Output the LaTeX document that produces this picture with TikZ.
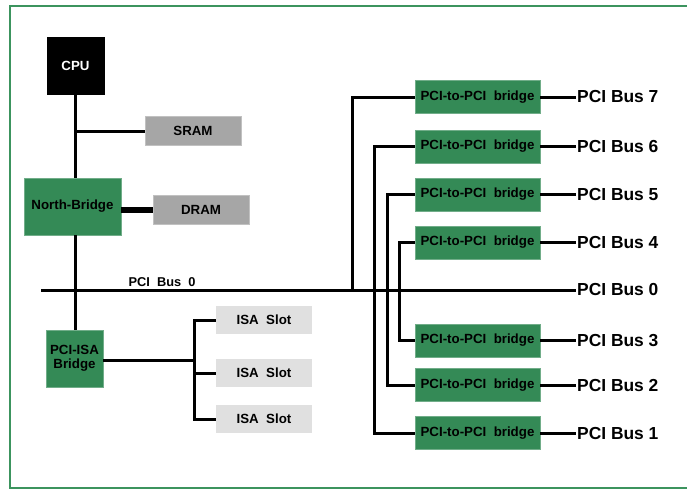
\documentclass[tikz,border=0pt]{standalone}
\usepackage{fontspec}
\setmainfont{Liberation Sans}
\definecolor{boxgreen}{RGB}{52,138,86}
\definecolor{framegreen}{RGB}{60,148,94}
\definecolor{midgray}{RGB}{166,166,166}
\definecolor{lightgray}{RGB}{224,224,224}
\newcommand{\dsp}{\ \ }
\begin{document}
\begin{tikzpicture}[x=1pt,y=-1pt,
  wire/.style={line width=3pt},
  thickwire/.style={line width=5.5pt},
  boxbase/.style={inner sep=0pt,font=\bfseries\fontsize{13.3}{14}\selectfont,align=center},
  greenbox/.style={boxbase,fill=boxgreen,draw=boxgreen!70!white,line width=0.6pt,text=black},
  graybox/.style={boxbase,fill=midgray,draw=midgray!70!white,line width=0.6pt,minimum width=96pt,minimum height=28.5pt},
  slotbox/.style={boxbase,fill=lightgray,minimum width=96pt,minimum height=28pt},
  bridgebox/.style={greenbox,minimum width=125pt,minimum height=33pt},
  buslabel/.style={anchor=west,inner sep=1pt,font=\bfseries\fontsize{17.4}{19}\selectfont},
  smalllabel/.style={inner sep=0pt,font=\bfseries\fontsize{12.8}{13}\selectfont}
]
\useasboundingbox (0,0) rectangle (687,491);
\draw[framegreen,line width=2.8pt] (10,6) rectangle (720,488);

% left side nodes
\node[boxbase,fill=black,text=white,minimum width=58pt,minimum height=58pt] (cpu) at (75.5,66) {CPU};
\node[graybox] (sram) at (193,131) {SRAM};
\node[greenbox,minimum width=97pt,minimum height=57pt] (nb) at (72.5,206.5) {North-Bridge};
\node[graybox] (dram) at (201,210) {DRAM};
\node[greenbox,minimum width=57pt,minimum height=57pt] (isab) at (74.5,358.5) {PCI-ISA\\[0pt]Bridge};
\node[slotbox] (isa1) at (264,320) {ISA\dsp Slot};
\node[slotbox] (isa2) at (264,373) {ISA\dsp Slot};
\node[slotbox] (isa3) at (264,419) {ISA\dsp Slot};

% bus 0
\coordinate (bus0L) at (41,290);
\coordinate (t7) at (352,290);
\coordinate (jisa) at (194,360);
\node[buslabel] (L0) at (576,290) {PCI Bus 0};
\node[smalllabel] (p0) at (162,282.5) {PCI\dsp Bus\dsp 0};

% bridges
\node[bridgebox] (b7) at (477.5,97) {PCI-to-PCI\dsp bridge};
\node[bridgebox] (b6) at (477.5,146.5) {PCI-to-PCI\dsp bridge};
\node[bridgebox] (b5) at (477.5,194.5) {PCI-to-PCI\dsp bridge};
\node[bridgebox] (b4) at (477.5,242.5) {PCI-to-PCI\dsp bridge};
\node[bridgebox] (b3) at (477.5,340.5) {PCI-to-PCI\dsp bridge};
\node[bridgebox] (b2) at (477.5,385) {PCI-to-PCI\dsp bridge};
\node[bridgebox] (b1) at (477.5,433) {PCI-to-PCI\dsp bridge};

\node[buslabel] (L7) at (576,97) {PCI Bus 7};
\node[buslabel] (L6) at (576,146.5) {PCI Bus 6};
\node[buslabel] (L5) at (576,194.5) {PCI Bus 5};
\node[buslabel] (L4) at (576,242.5) {PCI Bus 4};
\node[buslabel] (L3) at (576,340.5) {PCI Bus 3};
\node[buslabel] (L2) at (576,385) {PCI Bus 2};
\node[buslabel] (L1) at (576,433) {PCI Bus 1};

% wires
\draw[wire] (cpu.south) -- (cpu.south |- nb.north);
\draw[wire] (cpu.south |- nb.south) -- (cpu.south |- isab.north);
\draw[wire] (sram.west) -- (sram.west -| cpu.south);
\draw[thickwire] (dram.west) -- (dram.west -| nb.east);
\draw[wire] (bus0L) -- (L0.west);
\draw[wire] (isab.east |- jisa) -- (jisa);
\draw[wire] (isa1.west) -- (isa1.west -| jisa) -- (isa3.west -| jisa) -- (isa3.west);
\draw[wire] (isa2.west) -- (isa2.west -| jisa);

\draw[wire] (b7.west) -| (t7);
\draw[wire] (b6.west) -- ++(-40,0) |- (b1.west);
\draw[wire] (b5.west) -- ++(-27,0) |- (b2.west);
\draw[wire] (b4.west) -- ++(-15,0) |- (b3.west);

\foreach \i in {1,...,7}{\draw[wire] (b\i.east) -- (L\i.west);}
\end{tikzpicture}
\end{document}
